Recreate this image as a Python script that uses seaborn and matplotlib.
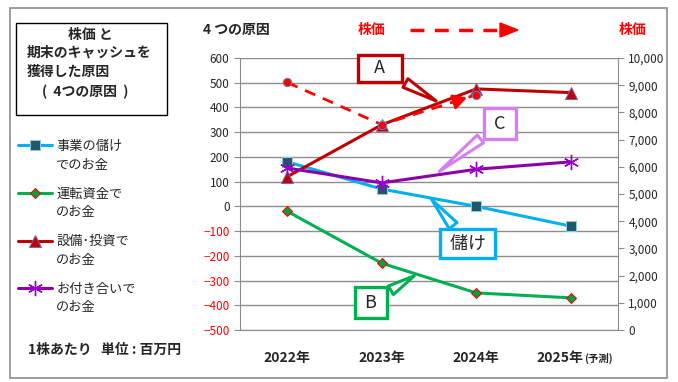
import numpy as np
import pandas as pd
import matplotlib
matplotlib.use("Agg")
import matplotlib.pyplot as plt
import seaborn as sns
from matplotlib.patches import Rectangle
from matplotlib.ticker import FuncFormatter, MultipleLocator

years = ["2022年", "2023年", "2024年", "2025年"]
profit = [180, 70, 0, -80]            # 事業の儲けでのお金
working = [-20, -230, -350, -370]     # 運転資金でのお金
invest = [120, 330, 475, 460]         # 設備・投資でのお金
social = [155, 95, 150, 180]          # お付き合いでのお金
price = [9100, 7550, 8650]            # 株価 (右軸)

label_top = ["事業の儲け", "運転資金で", "設備･投資で", "お付き合いで"]
label_bottom = ["でのお金", "のお金", "のお金", "のお金"]

sns.set_style("white")
plt.rcParams['font.family'] = ['Noto Sans CJK JP', 'DejaVu Sans']

fig = plt.figure(figsize=(6.78, 3.82), dpi=100)
ax = fig.add_axes([240/678, 1-330/382, 378/678, 272/382])
ax2 = ax.twinx()

x = np.arange(len(years))
df = pd.DataFrame({"x": x, "profit": profit, "working": working,
                   "invest": invest, "social": social})

sns.lineplot(data=df, x="x", y="profit", ax=ax, color="#00B0F0", lw=2.2,
             marker="s", markersize=7, markerfacecolor="#215868",
             markeredgecolor="#8CC8E0", zorder=4)
sns.lineplot(data=df, x="x", y="working", ax=ax, color="#00B050", lw=2.2,
             marker="D", markersize=5.5, markerfacecolor="#00A040",
             markeredgecolor="#FF0000", zorder=4)
sns.lineplot(data=df, x="x", y="invest", ax=ax, color="#C00000", lw=2.2,
             marker="^", markersize=9, markerfacecolor="#C00000",
             markeredgecolor="#8064A2", zorder=4)
sns.lineplot(data=df, x="x", y="social", ax=ax, color="#8C00A8", lw=2.2,
             marker=(6, 2, 0), markersize=11, markeredgecolor="#9B00D0",
             markeredgewidth=1, zorder=5)

pdf = pd.DataFrame({"x": x[:len(price)], "price": price})
sns.lineplot(data=pdf, x="x", y="price", ax=ax2, color="#FF0000", lw=2,
             linestyle=(0, (4, 3)), marker="o", markersize=6,
             markerfacecolor="#FF0000", markeredgecolor="#6A7FB8", zorder=6)
# arrow head near the last stock price point
p1 = np.array([x[1], price[1]], dtype=float)
p2 = np.array([x[2], price[2]], dtype=float)
ax2.annotate("", xy=tuple(p1 + 0.93*(p2-p1)), xytext=tuple(p1 + 0.8*(p2-p1)),
             arrowprops=dict(arrowstyle="-|>,head_length=0.8,head_width=0.45",
                             color="#FF0000", lw=2), zorder=6)

ax.set_xlim(-0.5, 3.5)
ax.set_ylim(-500, 600)
ax2.set_ylim(0, 10000)
ax.yaxis.set_major_locator(MultipleLocator(100))
ax2.yaxis.set_major_locator(MultipleLocator(1000))
ax.grid(axis="y", color="#8C8C8C", lw=1)
ax.set_xlabel("")
ax.set_ylabel("")
ax2.set_ylabel("")
ax.set_xticks(x)
ax.set_xticklabels([])
xt = ax.get_xaxis_transform()
for i, yr in enumerate(years):
    if i == len(years) - 1:
        ax.text(i + 0.13, -0.103, yr, transform=xt, ha="right",
                va="center", fontsize=10, fontweight="bold")
        ax.text(i + 0.14, -0.103, "(予測)", transform=xt,
                ha="left", va="center", fontsize=7.5, fontweight="bold")
    else:
        ax.text(i, -0.103, yr, transform=xt, ha="center",
                va="center", fontsize=10, fontweight="bold")
ax.tick_params(axis="x", length=0)
ax.tick_params(axis="y", labelsize=8.5, length=4, color="#8C8C8C", left=True)
ax2.tick_params(axis="y", labelsize=8.5, length=4, color="#8C8C8C", right=True)
ax2.yaxis.set_major_formatter(FuncFormatter(lambda v, p: f"{int(v):,}"))
fig.canvas.draw()
for t in ax.get_yticklabels():
    if t.get_position()[1] < 0:
        t.set_color("#FF0000")
for a in (ax, ax2):
    for s in a.spines.values():
        s.set_visible(False)
    a.spines["left"].set_visible(a is ax)
    a.spines["right"].set_visible(a is ax2)
    a.spines["left"].set_color("#8C8C8C")
    a.spines["right"].set_color("#8C8C8C")
ax.spines["bottom"].set_visible(True)
ax.spines["bottom"].set_color("#8C8C8C")
ax.set_zorder(2)
ax2.set_zorder(3)
ax2.patch.set_visible(False)

# callouts
def callout(a, text, box, tip, color, pad):
    a.annotate(text, xy=tip, xytext=box, ha="center", va="center", fontsize=13,
               bbox=dict(boxstyle=f"square,pad={pad}", fc="white", ec=color, lw=2.4),
               arrowprops=dict(arrowstyle="wedge,tail_width=0.55,shrink_factor=0.5",
                               fc="white", ec=color, lw=2.2),
               zorder=7)

callout(ax, "   A   ", (0.98, 559), (1.6, 421), "#C00000", 0.25)
callout(ax, " C ", (2.25, 335), (1.585, 134), "#D580F0", 0.35)
callout(ax, " 儲け ", (1.91, -150), (1.51, 36), "#00B0F0", 0.3)
callout(ax, " B ", (0.886, -389), (1.37, -275), "#00B050", 0.35)

# legend
handles = ax.get_lines()[:4]
leg = fig.legend(handles, label_top, loc="upper left",
                 bbox_to_anchor=(18/678, 1-140/382), frameon=False, fontsize=9.5,
                 handlelength=2.6, handletextpad=0.3, labelspacing=2.62,
                 borderaxespad=0, borderpad=0)
fig.canvas.draw()
rend = fig.canvas.get_renderer()
for t, sub in zip(leg.get_texts(), label_bottom):
    bb = t.get_window_extent(rend)
    fx, fy = fig.transFigure.inverted().transform((bb.x0, bb.y0 - 12))
    fig.text(fx, fy, sub, ha="left", va="center", fontsize=9.5)

# texts
fig.text(90/678, 1-35/382, "株価 と", ha="center", va="center", fontsize=10, fontweight="bold")
fig.text(27/678, 1-53/382, "期末のキャッシュを", ha="left", va="center", fontsize=10, fontweight="bold")
fig.text(27/678, 1-72/382, "獲得した原因", ha="left", va="center", fontsize=10, fontweight="bold")
fig.text(85/678, 1-92/382, "(  4つの原因  )", ha="center", va="center", fontsize=10, fontweight="bold")
fig.add_artist(Rectangle((16/678, 1-115/382), 151/678, 92/382, transform=fig.transFigure,
                         fill=False, ec="black", lw=1))
fig.add_artist(Rectangle((10/678, 1-378/382), 657/678, 370/382, transform=fig.transFigure,
                         fill=False, ec="#8C8C8C", lw=1.2))
fig.text(203/678, 1-30/382, "4 つの原因", ha="left", va="center", fontsize=10, fontweight="bold")
fig.text(372/678, 1-30/382, "株価", ha="center", va="center", fontsize=10,
         fontweight="bold", color="#FF0000")
fig.text(633/678, 1-30/382, "株価", ha="center", va="center", fontsize=10,
         fontweight="bold", color="#FF0000")
fig.add_artist(plt.Line2D([410/678, 500/678], [1-30/382, 1-30/382], transform=fig.transFigure,
                          color="#FF0000", lw=2.5, linestyle=(0, (4, 3))))
fig.patches.append(plt.Polygon([[500/678, 1-23/382], [518/678, 1-30/382], [500/678, 1-37/382]],
                               closed=True, transform=fig.transFigure, color="#FF0000"))
fig.text(28/678, 1-350/382, "1株あたり   単位 : 百万円", ha="left", va="center",
         fontsize=10, fontweight="bold")

fig.savefig("out.png", dpi=100)
